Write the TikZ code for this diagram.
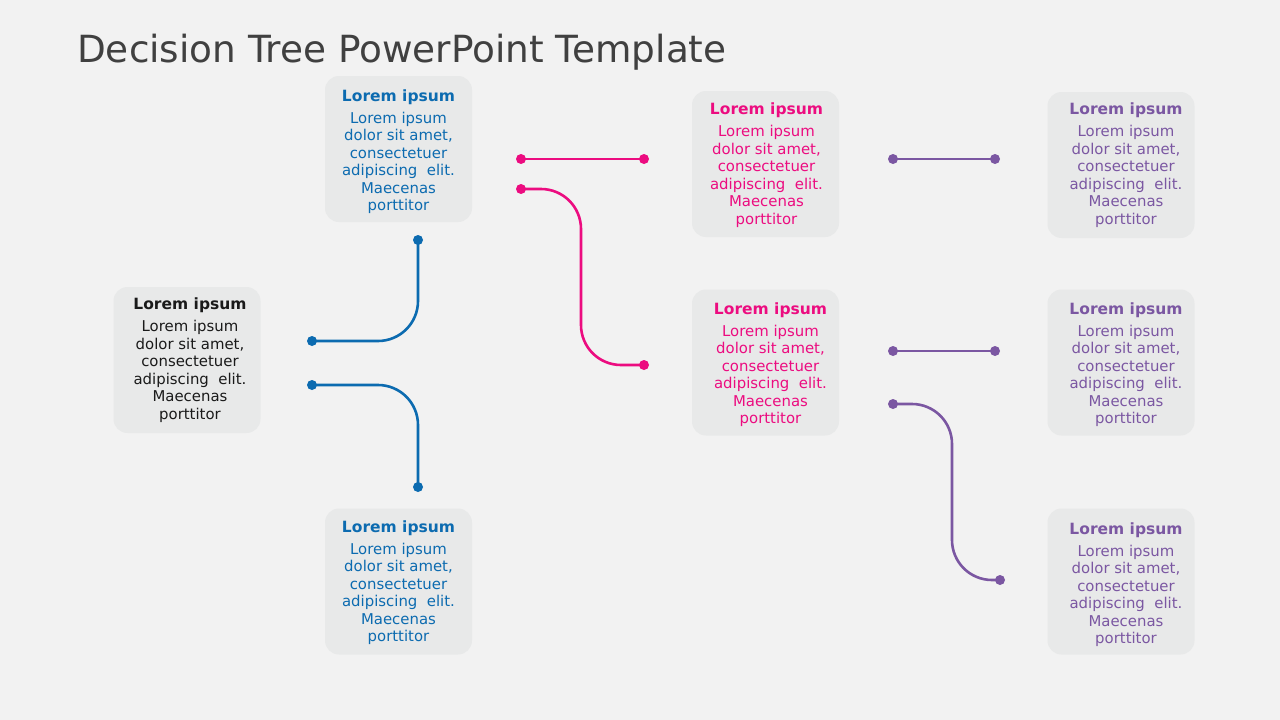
\documentclass[tikz,border=0pt]{standalone}
\usepackage{fontspec}
\setmainfont{DejaVu Sans}
\definecolor{bg}{HTML}{F2F2F2}
\definecolor{boxfill}{HTML}{E8E9E9}
\definecolor{titlegray}{HTML}{404040}
\definecolor{dblue}{HTML}{0C6BB0}
\definecolor{dpink}{HTML}{EC0C80}
\definecolor{dpurple}{HTML}{7B57A2}
\definecolor{droot}{HTML}{1A1A1A}
\newcommand{\boxtext}{{\bfseries\fontsize{15.5}{17.5}\selectfont Lorem ipsum}\\[4.5pt]Lorem ipsum\\dolor sit amet,\\consectetuer\\adipiscing\ \ elit.\\Maecenas\\porttitor}
\tikzset{
  card/.style={fill=boxfill, rounded corners=14pt, minimum width=147pt, minimum height=146pt, inner sep=0pt},
  cardtext/.style={align=center, inner sep=0pt, font=\fontsize{14.9}{17.5}\selectfont},
  conn/.style={line width=2.6pt, rounded corners=40pt},
}
\begin{document}
\begin{tikzpicture}[x=1pt,y=-1pt]
\fill[bg] (0,0) rectangle (1280,720);
\useasboundingbox (0,0) rectangle (1280,720);
\node[anchor=base west, text=titlegray, font=\fontsize{37.4}{40}\selectfont, inner sep=0pt] (title) at (77,62) {Decision Tree PowerPoint Template};

% cards
\node[card] (root) at (187,360) {};
\node[card] (bt) at (398.5,149) {};
\node[card] (bb) at (398.5,581.5) {};
\node[card] (pt) at (765.5,164) {};
\node[card] (pm) at (765.5,362.5) {};
\node[card] (u1) at (1121,165) {};
\node[card] (u2) at (1121,362.5) {};
\node[card] (u3) at (1121,581.5) {};

% card texts
\node[cardtext, text=droot] (roott) at ([xshift=3pt]root.center) {\boxtext};
\node[cardtext, text=dblue] (btt) at ([yshift=-2.5pt]bt.center) {\boxtext};
\node[cardtext, text=dblue] (bbt) at ([yshift=-1pt]bb.center) {\boxtext};
\node[cardtext, text=dpink] (ptt) at ([xshift=1pt,yshift=-1pt]pt.center) {\boxtext};
\node[cardtext, text=dpink] (pmt) at ([xshift=5pt,yshift=-2pt]pm.center) {\boxtext};
\node[cardtext, text=dpurple] (u1t) at ([xshift=5pt]u1.center) {\boxtext};
\node[cardtext, text=dpurple] (u2t) at ([xshift=5pt,yshift=-2pt]u2.center) {\boxtext};
\node[cardtext, text=dpurple] (u3t) at ([xshift=5pt,yshift=-3pt]u3.center) {\boxtext};

% connector endpoints
\coordinate (ba1) at (312,341);
\coordinate (ba2) at (418,240);
\coordinate (bb1) at (312,385);
\coordinate (bb2) at (418,487);
\coordinate (pa1) at (521,159);
\coordinate (pa2) at (644,159);
\coordinate (pb1) at (521,189);
\coordinate (pbm) at (581,189);
\coordinate (pb2) at (644,365);
\coordinate (ua1) at (893,159);
\coordinate (ua2) at (995,159);
\coordinate (ub1) at (893,351);
\coordinate (ub2) at (995,351);
\coordinate (uc1) at (893,404);
\coordinate (ucm) at (952,404);
\coordinate (uc2) at (1000,580);

% blue
\draw[conn, dblue] (ba1) -| (ba2);
\draw[conn, dblue] (bb1) -| (bb2);
\foreach \p in {ba1,ba2,bb1,bb2} \fill[dblue] (\p) circle (5pt);
% pink
\draw[conn, dpink] (pa1) -- (pa2);
\draw[conn, dpink] (pb1) -- (pbm) |- (pb2);
\foreach \p in {pa1,pa2,pb1,pb2} \fill[dpink] (\p) circle (5pt);
% purple
\draw[conn, dpurple] (ua1) -- (ua2);
\draw[conn, dpurple] (ub1) -- (ub2);
\draw[conn, dpurple] (uc1) -- (ucm) |- (uc2);
\foreach \p in {ua1,ua2,ub1,ub2,uc1,uc2} \fill[dpurple] (\p) circle (5pt);
\end{tikzpicture}
\end{document}
